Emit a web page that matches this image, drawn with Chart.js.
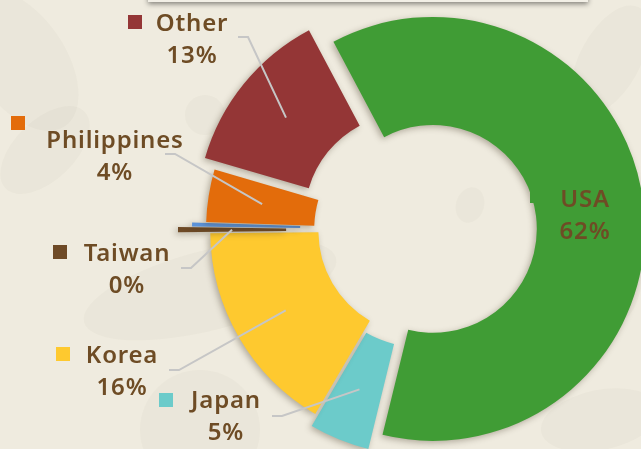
<!DOCTYPE html>
<html>
<head>
<meta charset="utf-8">
<script src="https://cdn.jsdelivr.net/npm/chart.js@4.4.0/dist/chart.umd.min.js"></script>
<style>
	html, body { margin: 0; padding: 0; background: #efebdf; }
	#wrap { width: 641px; height: 449px; position: relative; overflow: hidden; }
</style>
</head>
<body>
<div id="wrap"><canvas id="myChart" width="641" height="449"></canvas></div>
<script>
/* data */
const countries = ['USA', 'Japan', 'Korea', 'Taiwan', '', 'Philippines', 'Other'];
const shares = [61.6, 4.6, 16.4, 0.4, 0.3, 4.0, 12.7];

/* look */
const sliceColors = ['#409c35', '#6ccbca', '#fec92f', '#6e4a26', '#5b92d8', '#e36c0b', '#943636'];
const explode = [9, 14, 2, 34, 20, 6, 20]; // px each slice is pulled out
const textColor = '#6e4c25';

// label boxes: slice index, marker, text centre / baseline, start of leader line
const callouts = [
	{ index: 0, mx: 530, my: 189, tx: 585, ty: 207, line: null },
	{ index: 1, mx: 159, my: 393, tx: 226, ty: 408, line: [272, 416] },
	{ index: 2, mx: 56, my: 347, tx: 122, ty: 363, line: [169, 370] },
	{ index: 3, mx: 53, my: 245, tx: 127, ty: 261, line: [181, 268] },
	{ index: 5, mx: 11, my: 116, tx: 115, ty: 148, line: [165, 154] },
	{ index: 6, mx: 128, my: 15, tx: 192, ty: 31, line: [238, 37] }
];

const backdrop = {
	id: 'backdrop',
	beforeDraw(chart) {
		const ctx = chart.ctx;
		ctx.save();
		ctx.fillStyle = '#efebdf';
		ctx.fillRect(0, 0, chart.width, chart.height);

		// faint leaves in the background
		ctx.fillStyle = 'rgba(120, 110, 80, 0.035)';
		const blobs = [
			[20, 60, 45, 80, -0.6], [45, 150, 30, 55, 0.8], [210, 290, 130, 40, -0.25],
			[200, 430, 60, 60, 0], [610, 60, 30, 60, 0.5], [470, 205, 14, 18, 0.3],
			[620, 250, 25, 70, 0], [600, 420, 60, 30, -0.2]
		];
		blobs.forEach(b => {
			ctx.beginPath();
			ctx.ellipse(b[0], b[1], b[2], b[3], b[4], 0, Math.PI * 2);
			ctx.fill();
		});
		ctx.beginPath();
		ctx.arc(205, 115, 20, 0, Math.PI * 2);
		ctx.fill();

		// bottom of the panel above
		ctx.shadowColor = 'rgba(0, 0, 0, 0.45)';
		ctx.shadowBlur = 5;
		ctx.shadowOffsetY = 2;
		ctx.fillStyle = '#f2efe6';
		ctx.fillRect(148, -30, 440, 32);
		ctx.restore();
	}
};

const explodedArcs = {
	id: 'explodedArcs',
	beforeDatasetDraw(chart, args) {
		const ctx = chart.ctx;
		ctx.save();
		ctx.shadowColor = 'rgba(60, 50, 30, 0.35)';
		ctx.shadowBlur = 6;
		ctx.shadowOffsetX = -2;
		ctx.shadowOffsetY = 2;
		args.meta.data.forEach((arc, i) => {
			const mid = (arc.startAngle + arc.endAngle) / 2;
			ctx.save();
			ctx.translate(Math.cos(mid) * explode[i], Math.sin(mid) * explode[i]);
			arc.draw(ctx);
			ctx.restore();
		});
		ctx.restore();
		return false;
	}
};

const calloutLabels = {
	id: 'calloutLabels',
	afterDatasetsDraw(chart) {
		const ctx = chart.ctx;
		const meta = chart.getDatasetMeta(0);
		const total = shares.reduce((a, b) => a + b, 0);
		ctx.save();
		callouts.forEach(c => {
			const i = c.index;
			const arc = meta.data[i];
			if (c.line) {
				const mid = (arc.startAngle + arc.endAngle) / 2;
				const r = (arc.innerRadius + arc.outerRadius) / 2 + explode[i];
				ctx.strokeStyle = '#c6c6c6';
				ctx.lineWidth = 2;
				ctx.beginPath();
				ctx.moveTo(c.line[0], c.line[1]);
				ctx.lineTo(c.line[0] + 10, c.line[1]);
				ctx.lineTo(arc.x + Math.cos(mid) * r, arc.y + Math.sin(mid) * r);
				ctx.stroke();
			}
			ctx.fillStyle = sliceColors[i];
			ctx.fillRect(c.mx, c.my, 14, 14);

			ctx.fillStyle = textColor;
			ctx.font = '600 24px "Noto Sans"';
			ctx.letterSpacing = '0.8px';
			ctx.textAlign = 'center';
			ctx.textBaseline = 'alphabetic';
			ctx.fillText(countries[i], c.tx, c.ty);
			ctx.fillText(Math.round(shares[i] / total * 100) + '%', c.tx, c.ty + 32);
		});
		ctx.restore();
	}
};

new Chart(document.getElementById('myChart'), {
	type: 'doughnut',
	data: {
		labels: countries,
		datasets: [{
			data: shares,
			backgroundColor: sliceColors,
			borderWidth: 0
		}]
	},
	options: {
		responsive: false,
		devicePixelRatio: 1,
		animation: false,
		events: [],
		rotation: -28,
		radius: 212,
		cutout: '49%',
		layout: {
			padding: { left: 207, right: 0, top: 11, bottom: 0 }
		},
		plugins: {
			legend: { display: false },
			tooltip: { enabled: false }
		}
	},
	plugins: [backdrop, explodedArcs, calloutLabels]
});
</script>
</body>
</html>
